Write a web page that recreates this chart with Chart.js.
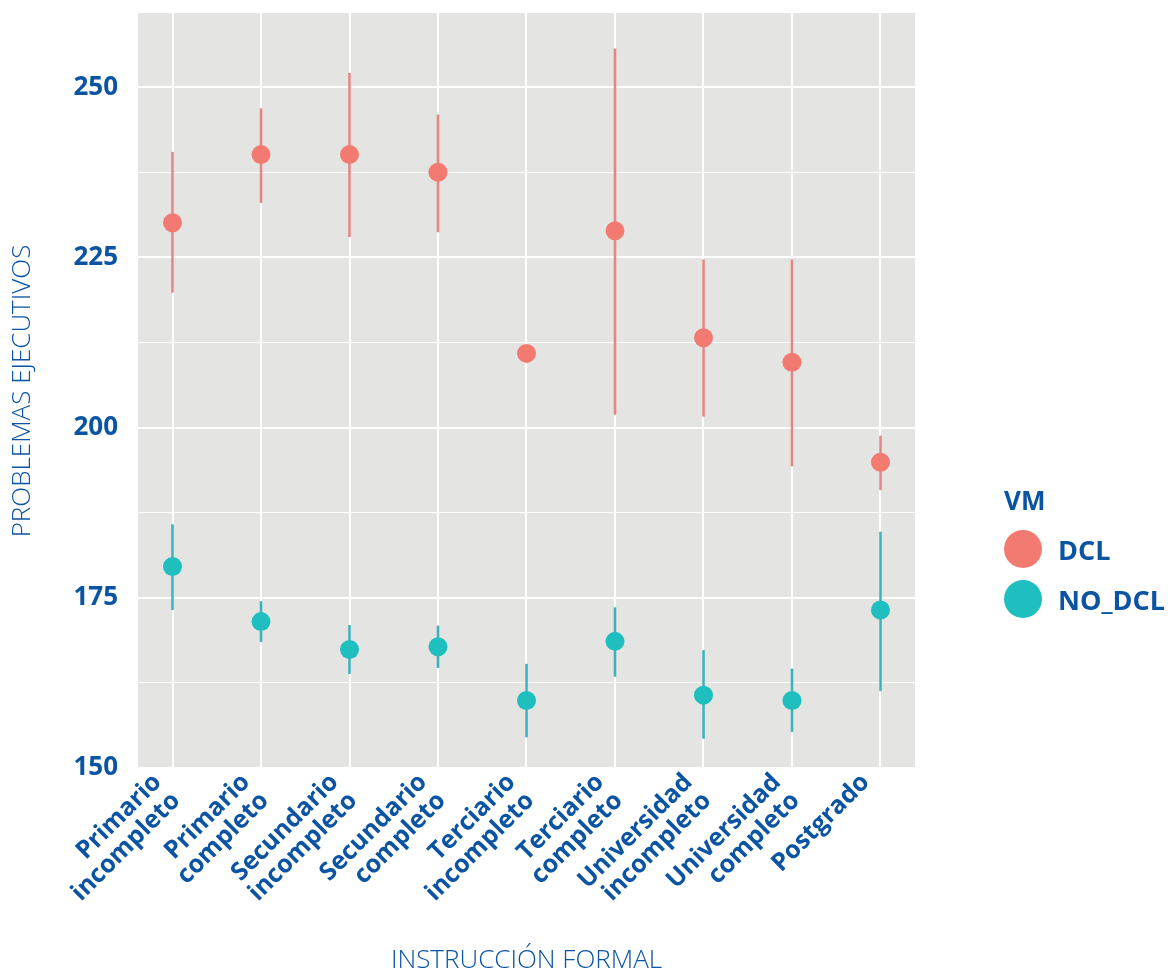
<!DOCTYPE html>
<html>
<head>
<meta charset="utf-8">
<script src="https://cdn.jsdelivr.net/npm/chart.js@4.4.1/dist/chart.umd.min.js"></script>
<style>
  body { margin: 0; background: #fff; }
  .wrap { position: relative; width: 1168px; height: 974px; }
  .legend { position: absolute; left: 1004px; top: 484px; font-family: "Open Sans", sans-serif; color: #0b54a3; font-weight: 700; }
  .legend .title { font-size: 26px; line-height: 32px; margin-bottom: 8px; }
  .legend .item { display: flex; align-items: center; height: 50px; font-size: 27px; }
  .legend .dot { width: 38px; height: 38px; border-radius: 50%; margin-right: 16px; }
</style>
</head>
<body>
<div class="wrap">
  <canvas id="chart" width="1168" height="974"></canvas>
  <div id="legend" class="legend"></div>
</div>
<script>
const categories = ['Primario incompleto', 'Primario completo', 'Secundario incompleto', 'Secundario completo',
  'Terciario incompleto', 'Terciario completo', 'Universidad incompleto', 'Universidad completo', 'Postgrado'];

// DCL
const dclMean = [230.1, 240.1, 240.1, 237.5, 210.9, 228.9, 213.2, 209.6, 194.9];
const dclLow  = [219.8, 233.0, 228.0, 228.7, null, 201.9, 201.6, 194.3, 190.8];
const dclHigh = [240.5, 246.9, 252.1, 246.0, null, 255.7, 224.7, 224.7, 198.8];

// NO_DCL
const noMean = [179.6, 171.5, 167.4, 167.8, 159.9, 168.6, 160.7, 159.9, 173.2];
const noLow  = [173.2, 168.5, 163.8, 164.7, 154.5, 163.4, 154.3, 155.3, 161.3];
const noHigh = [185.8, 174.5, 171.0, 170.9, 165.3, 173.6, 167.3, 164.6, 184.7];

const yTicks = [150, 162.5, 175, 187.5, 200, 212.5, 225, 237.5, 250];

const blue = '#0b54a3';
const pts = arr => arr.map((v, i) => ({ x: i, y: v }));

// panel background
const panelBg = {
  id: 'panelBg',
  beforeDraw(chart) {
    const { ctx, chartArea: a } = chart;
    ctx.save();
    ctx.fillStyle = '#e4e4e2';
    ctx.fillRect(a.left, a.top, a.right - a.left, a.bottom - a.top);
    ctx.restore();
  }
};

// vertical error bars drawn under the points
const errorBars = {
  id: 'errorBars',
  beforeDatasetsDraw(chart) {
    const { ctx, scales: { x, y } } = chart;
    ctx.save();
    chart.data.datasets.forEach(ds => {
      ctx.strokeStyle = ds.barColor;
      ctx.lineWidth = 2.5;
      ds.low.forEach((lo, i) => {
        const hi = ds.high[i];
        if (lo == null || hi == null) return;
        const px = x.getPixelForValue(i);
        ctx.beginPath();
        ctx.moveTo(px, y.getPixelForValue(lo));
        ctx.lineTo(px, y.getPixelForValue(hi));
        ctx.stroke();
      });
    });
    ctx.restore();
  }
};

const noPad = s => { s.paddingTop = 0; s.paddingBottom = 0; s.paddingLeft = 0; s.paddingRight = 0; };

const chart = new Chart(document.getElementById('chart'), {
  type: 'scatter',
  data: {
    datasets: [
      { label: 'DCL', data: pts(dclMean), low: dclLow, high: dclHigh,
        backgroundColor: '#f37a71', borderWidth: 0, pointRadius: 9.5, barColor: 'rgba(226,112,110,0.85)' },
      { label: 'NO_DCL', data: pts(noMean), low: noLow, high: noHigh,
        backgroundColor: '#1fbfc0', borderWidth: 0, pointRadius: 9.5, barColor: 'rgba(25,165,176,0.85)' }
    ]
  },
  options: {
    responsive: false,
    animation: false,
    layout: { padding: { left: 0, top: 13, right: 253, bottom: 0 } },
    plugins: { legend: { display: false }, tooltip: { enabled: false } },
    scales: {
      x: {
        type: 'linear', min: -0.39, max: 8.39,
        afterBuildTicks: s => { s.ticks = categories.map((c, i) => ({ value: i })); },
        afterFit: s => { s.height = 205; noPad(s); },
        grid: { color: '#ffffff', lineWidth: 2, drawTicks: false },
        border: { display: false },
        ticks: {
          minRotation: 45, maxRotation: 45, padding: 0, autoSkip: false, labelOffset: -15,
          color: blue, font: { family: 'Open Sans', size: 25, weight: 'bold', lineHeight: 1.05 },
          callback: v => {
            const c = categories[v];
            const k = c.indexOf(' ');
            return k < 0 ? c : [c.slice(0, k), c.slice(k + 1)];
          }
        },
        title: { display: true, text: 'INSTRUCCIÓN FORMAL', color: blue, padding: 0,
          font: { family: 'Open Sans', size: 26, weight: 300, lineHeight: 1 } }
      },
      y: {
        min: 149.85, max: 260.9,
        afterBuildTicks: s => { s.ticks = yTicks.map(v => ({ value: v })); },
        afterFit: s => { s.width = 138; noPad(s); },
        grid: { color: '#ffffff', drawTicks: false,
          lineWidth: c => (c.tick && c.tick.value % 25 === 0 ? 2 : 1) },
        border: { display: false },
        ticks: {
          padding: 20, color: blue, font: { family: 'Open Sans', size: 26, weight: 'bold' },
          callback: v => (v % 25 === 0 ? v : '')
        },
        title: { display: true, text: 'PROBLEMAS EJECUTIVOS', color: blue, padding: { top: 8, bottom: 0 },
          font: { family: 'Open Sans', size: 26, weight: 300, lineHeight: 1.1 } }
      }
    }
  },
  plugins: [panelBg, errorBars]
});

// legend
const leg = document.getElementById('legend');
leg.innerHTML = '<div class="title">VM</div>' + chart.data.datasets.map(ds =>
  `<div class="item"><span class="dot" style="background:${ds.backgroundColor}"></span>${ds.label}</div>`).join('');
</script>
</body>
</html>
